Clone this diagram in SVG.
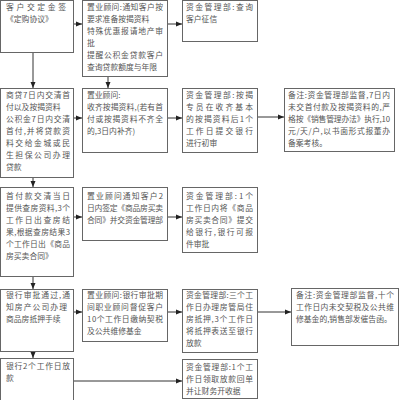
<svg xmlns="http://www.w3.org/2000/svg" width="400" height="400" viewBox="0 0 400 400">
<style>
.box{fill:#fff;stroke:#666;stroke-width:1}
.t{font-family:"Noto Sans CJK SC","Liberation Serif",serif;font-size:7.8px;fill:#555}
.c{fill:none;stroke:#333;stroke-width:1}
</style>
<defs>
<marker id="ah" markerUnits="userSpaceOnUse" markerWidth="6" markerHeight="6" refX="6" refY="3" orient="auto">
<path d="M0,0.5 L6,3 L0,5.5 z" fill="#222"/>
</marker>
</defs>
<rect width="400" height="400" fill="#fff"/>
<g id="connectors">
<path class="c" marker-end="url(#ah)" d="M73.5,24 H82"/>
<path class="c" marker-end="url(#ah)" d="M167.5,24 H182"/>
<path class="c" marker-end="url(#ah)" d="M33,52.5 V88"/>
<path class="c" marker-end="url(#ah)" d="M108,76.5 V88"/>
<path class="c" marker-end="url(#ah)" d="M73.5,118 H82"/>
<path class="c" marker-end="url(#ah)" d="M167.5,118 H182"/>
<path class="c" marker-end="url(#ah)" d="M257.5,117 H284"/>
<path class="c" marker-end="url(#ah)" d="M33,177.5 V187"/>
<path class="c" marker-end="url(#ah)" d="M73.5,217 H82"/>
<path class="c" marker-end="url(#ah)" d="M167.5,217 H182"/>
<path class="c" marker-end="url(#ah)" d="M33,276.5 V289"/>
<path class="c" marker-end="url(#ah)" d="M73.5,312 H82"/>
<path class="c" marker-end="url(#ah)" d="M167.5,312 H182"/>
<path class="c" marker-end="url(#ah)" d="M257.5,312 H291"/>
<path class="c" marker-end="url(#ah)" d="M33,351.5 V358"/>
<path class="c" marker-end="url(#ah)" d="M73.5,381 H182"/>
</g>
<g id="A1">
<rect class="box" x="0.5" y="0.5" width="73" height="52"/>
<text class="t" x="6" y="10" textLength="60" lengthAdjust="spacing">客户交定金签</text>
<text class="t" x="6" y="22">《定购协议》</text>
</g>
<g id="B1">
<rect class="box" x="82.5" y="0.5" width="85" height="76"/>
<text class="t" x="87" y="10" textLength="76" lengthAdjust="spacing">置业顾问:通知客户按</text>
<text class="t" x="87" y="22">要求准备按揭资料</text>
<text class="t" x="87" y="34" textLength="76" lengthAdjust="spacing">特殊优惠报请地产审</text>
<text class="t" x="87" y="46">批</text>
<text class="t" x="87" y="58" textLength="76" lengthAdjust="spacing">提醒公积金贷款客户</text>
<text class="t" x="87" y="70">查询贷款额度与年限</text>
</g>
<g id="C1">
<rect class="box" x="182.5" y="0.5" width="75" height="41"/>
<text class="t" x="186" y="10" textLength="67" lengthAdjust="spacing">资金管理部:查询</text>
<text class="t" x="186" y="22">客户征信</text>
</g>
<g id="A2">
<rect class="box" x="0.5" y="88.5" width="73" height="89"/>
<text class="t" x="6" y="98" textLength="64" lengthAdjust="spacing">商贷7日内交清首</text>
<text class="t" x="6" y="110">付以及按揭资料</text>
<text class="t" x="6" y="122" textLength="64" lengthAdjust="spacing">公积金7日内交清</text>
<text class="t" x="6" y="134" textLength="64" lengthAdjust="spacing">首付,并将贷款资</text>
<text class="t" x="6" y="146" textLength="64" lengthAdjust="spacing">料交给金城或民</text>
<text class="t" x="6" y="158" textLength="64" lengthAdjust="spacing">生担保公司办理</text>
<text class="t" x="6" y="170">贷款</text>
</g>
<g id="B2">
<rect class="box" x="82.5" y="88.5" width="85" height="64"/>
<text class="t" x="87" y="98">置业顾问:</text>
<text class="t" x="87" y="110" textLength="76" lengthAdjust="spacing">收齐按揭资料,(若有首</text>
<text class="t" x="87" y="122" textLength="76" lengthAdjust="spacing">付或按揭资料不齐全</text>
<text class="t" x="87" y="134">的,3日内补齐)</text>
</g>
<g id="C2">
<rect class="box" x="182.5" y="88.5" width="75" height="64"/>
<text class="t" x="186" y="98" textLength="67" lengthAdjust="spacing">资金管理部:按揭</text>
<text class="t" x="186" y="110" textLength="67" lengthAdjust="spacing">专员在收齐基本</text>
<text class="t" x="186" y="122" textLength="67" lengthAdjust="spacing">的按揭资料后1个</text>
<text class="t" x="186" y="134" textLength="67" lengthAdjust="spacing">工作日提交银行</text>
<text class="t" x="186" y="146">进行初审</text>
</g>
<g id="D2">
<rect class="box" x="284.5" y="88.5" width="110" height="63"/>
<text class="t" x="288" y="98" textLength="102" lengthAdjust="spacing">备注:资金管理部监督,7日内</text>
<text class="t" x="288" y="110" textLength="102" lengthAdjust="spacing">未交首付款及按揭资料的,严</text>
<text class="t" x="288" y="122" textLength="102" lengthAdjust="spacing">格按《销售管理办法》执行,10</text>
<text class="t" x="288" y="134" textLength="102" lengthAdjust="spacing">元/天/户,以书面形式报董办</text>
<text class="t" x="288" y="146">备案考核。</text>
</g>
<g id="A3">
<rect class="box" x="0.5" y="187.5" width="73" height="89"/>
<text class="t" x="6" y="199" textLength="64" lengthAdjust="spacing">首付款交清当日</text>
<text class="t" x="6" y="211" textLength="64" lengthAdjust="spacing">提供查房资料,3个</text>
<text class="t" x="6" y="223" textLength="64" lengthAdjust="spacing">工作日出查房结</text>
<text class="t" x="6" y="235" textLength="64" lengthAdjust="spacing">果,根据查房结果3</text>
<text class="t" x="6" y="247" textLength="64" lengthAdjust="spacing">个工作日出《商品</text>
<text class="t" x="6" y="259">房买卖合同》</text>
</g>
<g id="B3">
<rect class="box" x="82.5" y="187.5" width="85" height="53"/>
<text class="t" x="87" y="199" textLength="76" lengthAdjust="spacing">置业顾问通知客户2</text>
<text class="t" x="87" y="211" textLength="76" lengthAdjust="spacing">日内签定《商品房买卖</text>
<text class="t" x="87" y="223" textLength="76" lengthAdjust="spacing">合同》并交资金管理部</text>
</g>
<g id="C3">
<rect class="box" x="182.5" y="187.5" width="75" height="65"/>
<text class="t" x="186" y="199" textLength="67" lengthAdjust="spacing">资金管理部:1个</text>
<text class="t" x="186" y="211" textLength="67" lengthAdjust="spacing">工作日内将《商品</text>
<text class="t" x="186" y="223" textLength="67" lengthAdjust="spacing">房买卖合同》提交</text>
<text class="t" x="186" y="235" textLength="67" lengthAdjust="spacing">给银行,银行可报</text>
<text class="t" x="186" y="247">件审批</text>
</g>
<g id="A4">
<rect class="box" x="0.5" y="289.5" width="73" height="62"/>
<text class="t" x="6" y="298" textLength="64" lengthAdjust="spacing">银行审批通过,通</text>
<text class="t" x="6" y="310" textLength="61" lengthAdjust="spacing">知房产公司办理</text>
<text class="t" x="6" y="322">商品房抵押手续</text>
</g>
<g id="B4">
<rect class="box" x="82.5" y="289.5" width="85" height="52"/>
<text class="t" x="87" y="298" textLength="76" lengthAdjust="spacing">置业顾问:银行审批期</text>
<text class="t" x="87" y="310" textLength="76" lengthAdjust="spacing">间职业顾问督促客户</text>
<text class="t" x="87" y="322" textLength="76" lengthAdjust="spacing">10个工作日缴纳契税</text>
<text class="t" x="87" y="334">及公共维修基金</text>
</g>
<g id="C4">
<rect class="box" x="182.5" y="289.5" width="75" height="63"/>
<text class="t" x="186" y="298" textLength="67" lengthAdjust="spacing">资金管理部:三个工</text>
<text class="t" x="186" y="310" textLength="67" lengthAdjust="spacing">作日办理房管局住</text>
<text class="t" x="186" y="322" textLength="67" lengthAdjust="spacing">房抵押,3个工作日</text>
<text class="t" x="186" y="334" textLength="67" lengthAdjust="spacing">将抵押表送至银行</text>
<text class="t" x="186" y="346">放款</text>
</g>
<g id="D4">
<rect class="box" x="291.5" y="288.5" width="107" height="57"/>
<text class="t" x="296" y="298" textLength="98" lengthAdjust="spacing">备注:资金管理部监督,十个</text>
<text class="t" x="296" y="310" textLength="98" lengthAdjust="spacing">工作日内未交契税及公共维</text>
<text class="t" x="296" y="322">修基金的,销售部发催告函。</text>
</g>
<g id="A5">
<rect class="box" x="0.5" y="358.5" width="73" height="44"/>
<text class="t" x="6" y="369" textLength="64" lengthAdjust="spacing">银行2个工作日放</text>
<text class="t" x="6" y="381">款</text>
</g>
<g id="C5">
<rect class="box" x="182.5" y="359.5" width="75" height="39"/>
<text class="t" x="186" y="370" textLength="67" lengthAdjust="spacing">资金管理部:1个工</text>
<text class="t" x="186" y="382" textLength="67" lengthAdjust="spacing">作日领取放款回单</text>
<text class="t" x="186" y="394">并让财务开收据</text>
</g>
</svg>
